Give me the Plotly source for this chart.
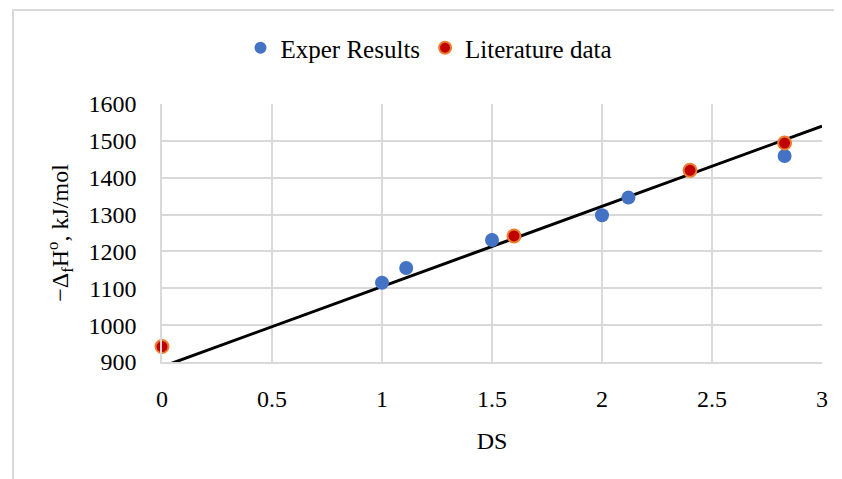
import plotly.graph_objects as go

# Data
exper_ds = [1.0, 1.11, 1.5, 2.0, 2.12, 2.83]
exper_dh = [1115, 1155, 1231, 1298, 1346, 1459]
lit_ds = [0.0, 1.6, 2.4, 2.83]
lit_dh = [942, 1242, 1420, 1494]
trend_ds = [0.0, 3.0]
trend_dh = [887, 1540]
x_ticks = [0, 0.5, 1, 1.5, 2, 2.5, 3]
y_ticks = [900, 1000, 1100, 1200, 1300, 1400, 1500, 1600]

FONT = "Liberation Serif"
OFF = 8  # page body offset
W, H = 842 - OFF, 479 - OFF
L, R, T, B = 162 - OFF, 20, 104 - OFF, 117

fig = go.Figure()
fig.add_trace(go.Scatter(
    x=trend_ds, y=trend_dh, mode="lines", cliponaxis=False,
    line=dict(color="black", width=3), showlegend=False, hoverinfo="skip"))
fig.add_trace(go.Scatter(
    x=exper_ds, y=exper_dh, mode="markers", name="Exper Results",
    marker=dict(color="#4472C4", size=14, line=dict(width=0)), cliponaxis=False))
fig.add_trace(go.Scatter(
    x=lit_ds, y=lit_dh, mode="markers", name="Literature data",
    marker=dict(color="#C00000", size=13, line=dict(color="#ED7D31", width=2)), cliponaxis=False))

pw = W - L - R
ph = H - T - B
def px_x(p):
    return (p - OFF - L) / pw
def px_y(p):
    return (H - B - (p - OFF)) / ph

fig.add_shape(type="rect", xref="paper", yref="paper",
              x0=px_x(13), x1=px_x(900), y0=px_y(560), y1=px_y(10),
              line=dict(color="#D9D9D9", width=2), fillcolor="rgba(0,0,0,0)", layer="below")

fig.update_layout(
    width=W, height=H,
    margin=dict(l=L, r=R, t=T, b=B, autoexpand=False),
    paper_bgcolor="white", plot_bgcolor="white",
    font=dict(family=FONT, size=24, color="black"),
    legend=dict(orientation="h", x=px_x(429), xanchor="center", y=px_y(48), yanchor="middle",
                font=dict(size=25), itemsizing="constant", traceorder="normal",
                itemwidth=30),
    xaxis=dict(range=[0, 3], tickvals=x_ticks, ticktext=[str(v) for v in x_ticks],
               showgrid=True, gridcolor="#D9D9D9", gridwidth=1.5, automargin=False,
               showline=True, linecolor="#D9D9D9", linewidth=1.5, zeroline=False,
               ticks="", ticklabelstandoff=14, tickfont=dict(size=24),
               title=dict(text="DS", standoff=22, font=dict(size=24))),
    yaxis=dict(range=[900, 1600], tickvals=y_ticks, showgrid=True,
               gridcolor="#D9D9D9", gridwidth=1.5, automargin=False,
               showline=True, linecolor="#D9D9D9", linewidth=1.5, zeroline=False,
               ticks="", ticklabelstandoff=19, tickfont=dict(size=24),
               title=dict(text="\u2212\u0394<sub>f</sub>H<sup>o</sup>, kJ/mol", standoff=13,
                          font=dict(size=24))),
)

fig.write_html("out.html")
